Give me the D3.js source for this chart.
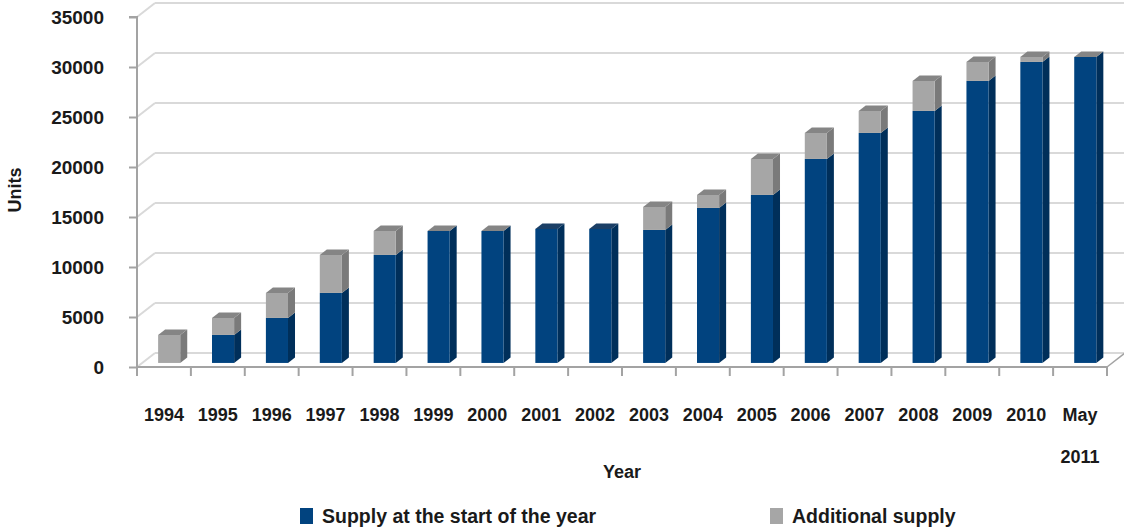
<!DOCTYPE html>
<html>
<head>
<meta charset="utf-8">
<script src="https://cdn.jsdelivr.net/npm/d3@7"></script>
<style>
  html, body { margin: 0; padding: 0; background: #fff; }
  svg { display: block; font-family: "Liberation Sans", Arial, sans-serif; }
</style>
</head>
<body>
<svg id="chart" width="1124" height="530"></svg>
<script>
// Housing supply by year (units)
const categories = ["1994","1995","1996","1997","1998","1999","2000","2001","2002",
  "2003","2004","2005","2006","2007","2008","2009","2010","May 2011"];
// Supply already standing at the start of each year
const startSupply = [null, 2800, 4500, 7000, 10800, 13200, 13200, 13400, 13400,
  13300, 15500, 16800, 20400, 23000, 25200, 28200, 30100, 30600];
// Supply added during the year (null = no entry)
const additionalSupply = [2800, 1700, 2500, 3800, 2400, 0, 0, null, null,
  2300, 1300, 3600, 2600, 2200, 3000, 1900, 500, 0];
const yTicks = [0, 5000, 10000, 15000, 20000, 25000, 30000, 35000];
const seriesNames = ["Supply at the start of the year", "Additional supply"];

const svg = d3.select("#chart");

// Plot frame: front of floor and depth of the 3D box
const x0 = 137, x1 = 1107, yBottom = 367, yTop = 17;
const DX = 18, DY = -14;          // full depth offset of the box
const fFront = 0.29, fBack = 0.68; // bar front/back position inside the depth

const x = d3.scaleBand().domain(categories).range([x0, x1])
  .paddingInner(0.59).paddingOuter(0.295);
const xStep = x.step();
const y = d3.scaleLinear().domain([0, 35000]).range([yBottom, yTop]);

const colors = {
  blue:  { front: "#01437f", side: "#002f5a", top: "#1b3f66" },
  gray:  { front: "#a6a6a6", side: "#7a7a7a", top: "#858585" }
};

// Walls: gridlines on back wall and their diagonals on the left wall
const grid = svg.append("g").attr("class", "grid");
grid.selectAll("line.back").data(yTicks).join("line")
  .attr("x1", x0 + DX).attr("x2", 1124)
  .attr("y1", d => y(d) + DY).attr("y2", d => y(d) + DY)
  .attr("stroke", "#d9d9d9").attr("stroke-width", 2);
grid.selectAll("line.side").data(yTicks).join("line")
  .attr("x1", x0).attr("x2", x0 + DX)
  .attr("y1", d => y(d)).attr("y2", d => y(d) + DY)
  .attr("stroke", "#d9d9d9").attr("stroke-width", 2);

// Floor front edge and right diagonal
const axisColor = "#a3a3a3";
svg.append("line").attr("x1", x0).attr("x2", x1).attr("y1", yBottom).attr("y2", yBottom)
  .attr("stroke", axisColor).attr("stroke-width", 2);
svg.append("line").attr("x1", x1).attr("x2", x1 + DX).attr("y1", yBottom).attr("y2", yBottom + DY)
  .attr("stroke", axisColor).attr("stroke-width", 1.5);

// X tick marks at category boundaries
const boundaries = d3.range(categories.length + 1).map(i => x0 + i * xStep);
svg.selectAll("line.xtick").data(boundaries).join("line")
  .attr("x1", d => d).attr("x2", d => d)
  .attr("y1", yBottom).attr("y2", yBottom + 9)
  .attr("stroke", axisColor).attr("stroke-width", 2);

// Y axis
const yAxis = d3.axisLeft(y).tickValues(yTicks).tickFormat(d3.format("d"))
  .tickSize(8).tickPadding(25);
const yg = svg.append("g").attr("transform", `translate(${x0},0)`).call(yAxis);
yg.select(".domain").attr("stroke", axisColor).attr("stroke-width", 2)
  .attr("d", `M-8,${yTop}H0V${yBottom}`);
yg.selectAll(".tick line").attr("stroke", axisColor).attr("stroke-width", 2);
yg.selectAll(".tick text").attr("fill", "#1a1a1a")
  .style("font-size", "19px").style("font-weight", "bold");

// 3D bar segment drawing
function drawBox(g, xf, w, yLow, yHigh, c, withTop) {
  const ox = fFront * DX, oy = fFront * DY;
  const dx = (fBack - fFront) * DX, dy = (fBack - fFront) * DY;
  const left = xf + ox, right = left + w;
  const bot = yLow + oy, top = yHigh + oy;
  g.append("path").attr("fill", c.side)
    .attr("d", `M${right},${bot}L${right + dx},${bot + dy}L${right + dx},${top + dy}L${right},${top}Z`);
  g.append("rect").attr("x", left).attr("y", top).attr("width", w).attr("height", Math.max(0, bot - top))
    .attr("fill", c.front);
  if (withTop) {
    g.append("path").attr("fill", c.top)
      .attr("d", `M${left},${top}L${left + dx},${top + dy}L${right + dx},${top + dy}L${right},${top}Z`);
  }
}

const bars = svg.append("g").attr("class", "bars");
categories.forEach((cat, i) => {
  const g = bars.append("g");
  const base = startSupply[i] || 0;
  const add = additionalSupply[i];
  const w = x.bandwidth();
  if (startSupply[i] !== null) {
    drawBox(g, x(cat), w, y(0), y(base), colors.blue, add === null);
  }
  if (add !== null) {
    drawBox(g, x(cat), w, y(base), y(base + add), colors.gray, true);
  }
});

// X labels
const xl = svg.append("g").attr("class", "xlabels")
  .style("font-size", "18px").style("font-weight", "bold").attr("fill", "#1a1a1a");
categories.forEach((cat, i) => {
  const t = xl.append("text").attr("text-anchor", "middle")
    .attr("x", x0 + (i + 0.5) * xStep).attr("y", 421);
  cat.split(" ").forEach((part, j) => {
    t.append("tspan").attr("x", x0 + (i + 0.5) * xStep).attr("dy", j === 0 ? 0 : 42).text(part);
  });
});

// Axis titles
svg.append("text").attr("x", 622).attr("y", 478).attr("text-anchor", "middle")
  .style("font-size", "18px").style("font-weight", "bold").attr("fill", "#1a1a1a").text("Year");
svg.append("text").attr("transform", "translate(21,190) rotate(-90)").attr("text-anchor", "middle")
  .style("font-size", "18px").style("font-weight", "bold").attr("fill", "#1a1a1a").text("Units");

// Legend
const legendItems = [
  { name: seriesNames[0], color: colors.blue.front, x: 300 },
  { name: seriesNames[1], color: colors.gray.front, x: 770 }
];
const lg = svg.append("g").attr("class", "legend");
legendItems.forEach(it => {
  lg.append("rect").attr("x", it.x).attr("y", 508).attr("width", 13).attr("height", 16).attr("fill", it.color);
  lg.append("text").attr("x", it.x + 22).attr("y", 523)
    .style("font-size", "19.5px").style("font-weight", "bold").attr("fill", "#1a1a1a").text(it.name);
});
</script>
</body>
</html>
